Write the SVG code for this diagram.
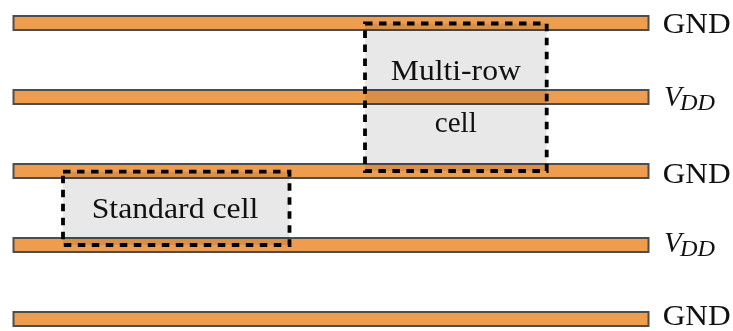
<svg xmlns="http://www.w3.org/2000/svg" width="733" height="331" viewBox="0 0 733 331">
<style>
.rail{fill:#EE9D4E;stroke:#4d4d4d;stroke-width:2}
.cell{fill:#e8e8e8;mix-blend-mode:multiply}
.border{fill:none;stroke:#000;stroke-width:3.8;stroke-dasharray:7.5 6.5}
.lbl{font-family:"Liberation Serif","Times New Roman",serif;font-size:29px;fill:#111}
.it{font-style:italic}
.sub{font-size:23px}
</style>
<rect width="733" height="331" fill="#fff"/>
<g id="rails">
<rect class="rail" x="13.5" y="16" width="635" height="14"/>
<rect class="rail" x="13.5" y="90" width="635" height="14"/>
<rect class="rail" x="13.5" y="164" width="635" height="14"/>
<rect class="rail" x="13.5" y="238" width="635" height="14"/>
<rect class="rail" x="13.5" y="312" width="635" height="14"/>
</g>
<g id="labels">
<text class="lbl" x="662.7" y="33.3" textLength="68" lengthAdjust="spacingAndGlyphs">GND</text>
<text class="lbl" x="664" y="106"><tspan class="it">V</tspan><tspan class="it sub" dy="4" x="680" textLength="35" lengthAdjust="spacingAndGlyphs">DD</tspan></text>
<text class="lbl" x="662.7" y="182.5" textLength="68" lengthAdjust="spacingAndGlyphs">GND</text>
<text class="lbl" x="664" y="252"><tspan class="it">V</tspan><tspan class="it sub" dy="4" x="680" textLength="35" lengthAdjust="spacingAndGlyphs">DD</tspan></text>
<text class="lbl" x="662.7" y="324.5" textLength="68" lengthAdjust="spacingAndGlyphs">GND</text>
</g>
<g id="multi-row-cell">
<rect class="cell" x="365" y="23.5" width="181.7" height="147.5"/>
<rect class="border" x="365" y="23.5" width="181.7" height="147.5"/>
<text class="lbl" x="455.8" y="80" text-anchor="middle" textLength="130" lengthAdjust="spacingAndGlyphs">Multi-row</text>
<text class="lbl" x="455.8" y="131.7" text-anchor="middle">cell</text>
</g>
<g id="standard-cell">
<rect class="cell" x="63" y="171.7" width="226.5" height="73.3"/>
<rect class="border" x="63" y="171.7" width="226.5" height="73.3"/>
<text class="lbl" x="175" y="218.3" text-anchor="middle" textLength="166.6" lengthAdjust="spacingAndGlyphs">Standard cell</text>
</g>
</svg>
